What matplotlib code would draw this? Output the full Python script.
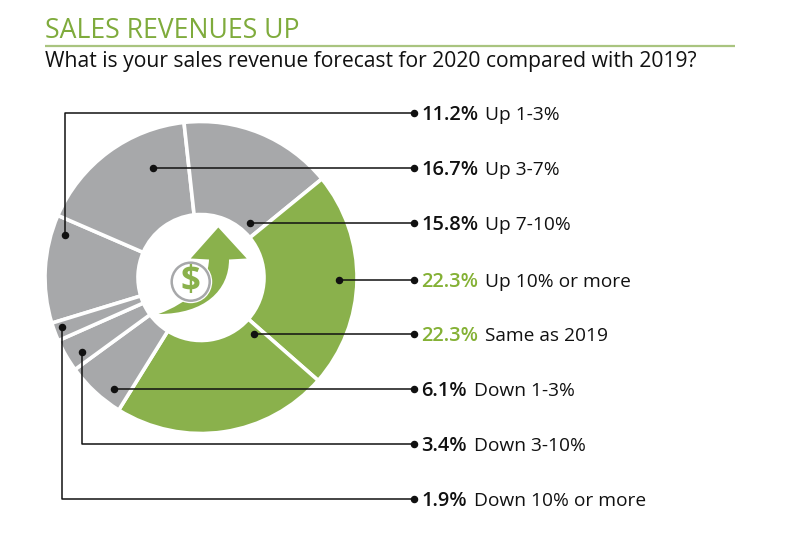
import matplotlib
matplotlib.use('Agg')
import matplotlib.pyplot as plt
from matplotlib.patches import Circle, PathPatch
from matplotlib.path import Path

plt.rcParams['font.family'] = ['Open Sans', 'DejaVu Sans']

# Survey values, clockwise from the "Up 1-3%" slice
categories = ['Up 1-3%', 'Up 3-7%', 'Up 7-10%', 'Up 10% or more', 'Same as 2019',
              'Down 1-3%', 'Down 3-10%', 'Down 10% or more']
values = [11.2, 16.7, 15.8, 22.3, 22.3, 6.1, 3.4, 1.9]
highlighted = [False, False, False, True, True, False, False, False]

green = '#8ab14c'
title_green = '#7fab3c'
rule_green = '#a9c47f'
value_green = '#84b135'
grey = '#a7a8aa'
dark = '#111111'

W, H = 800, 548
fig = plt.figure(figsize=(W / 100, H / 100), dpi=100)
ax = fig.add_axes([0, 0, 1, 1])


def Y(py):
    # picture pixels run downwards, the axes upwards
    return H - py


# ─── Donut ───
ax.pie(values, colors=[green if h else grey for h in highlighted],
       startangle=197, counterclock=False, center=(201, Y(277.5)), radius=156,
       wedgeprops=dict(width=93, edgecolor='white', linewidth=2.6))
ax.set_xlim(0, W)
ax.set_ylim(0, H)
ax.set_aspect('equal')
ax.axis('off')

# ─── Header ───
ax.text(45, Y(38.5), 'SALES REVENUES UP', fontsize=19.2, color=title_green,
        ha='left', va='baseline')
ax.plot([45, 735], [Y(45.5), Y(45.5)], color=rule_green, lw=1.6, solid_capstyle='butt')
ax.text(45, Y(67), 'What is your sales revenue forecast for 2020 compared with 2019?',
        fontsize=15.2, color=dark, ha='left', va='baseline')

# ─── Leader lines and labels ───
leaders = [
    [(65, 235), (65, 113), (414, 113)],
    [(153, 168), (414, 168)],
    [(250, 223), (414, 223)],
    [(339, 280), (414, 280)],
    [(254, 334), (414, 334)],
    [(114, 389), (414, 389)],
    [(82, 352), (82, 444), (414, 444)],
    [(62, 327), (62, 499), (414, 499)],
]
for pts, val, cat, hi in zip(leaders, values, categories, highlighted):
    xs = [p[0] for p in pts]
    ys = [Y(p[1]) for p in pts]
    ax.plot(xs, ys, color=dark, lw=1.1, zorder=5, solid_capstyle='butt')
    ax.plot([xs[0], xs[-1]], [ys[0], ys[-1]], ls='none', marker='o', ms=4.4,
            color=dark, zorder=6)
    t = ax.text(421, ys[-1] - 7, f'{val}%', fontsize=14.4, fontweight='semibold',
                color=value_green if hi else dark, ha='left', va='baseline')
    ext = t.get_window_extent(fig.canvas.get_renderer())
    ax.text(ext.x1 + 7, ys[-1] - 7, cat, fontsize=13.8, color=dark, ha='left',
            va='baseline')

# ─── Centre icon: rising arrow with dollar coin ───
arrow_verts = [
    (158.5, Y(314)),
    (205, Y(314)), (229, Y(290)), (229, Y(259.5)),
    (246.7, Y(258.5)), (218.3, Y(227.5)), (190.7, Y(258.5)), (209, Y(259.5)),
    (208, Y(285)), (188, Y(303)), (158.5, Y(314)),
    (158.5, Y(314)),
]
arrow_codes = [Path.MOVETO, Path.CURVE4, Path.CURVE4, Path.CURVE4,
               Path.LINETO, Path.LINETO, Path.LINETO, Path.LINETO,
               Path.CURVE4, Path.CURVE4, Path.CURVE4, Path.CLOSEPOLY]
ax.add_patch(PathPatch(Path(arrow_verts, arrow_codes), facecolor=green,
                       edgecolor='none', zorder=3))
ax.add_patch(Circle((190.7, Y(281.7)), 21.5, facecolor='white', edgecolor='none', zorder=4))
ax.add_patch(Circle((190.7, Y(281.7)), 19, facecolor='white', edgecolor=grey, lw=1.8, zorder=4))
ax.text(190.7, Y(282), '$', fontsize=25, fontweight='bold', color=green,
        ha='center', va='center', zorder=5)

fig.savefig('out.png', dpi=100, facecolor='white')
